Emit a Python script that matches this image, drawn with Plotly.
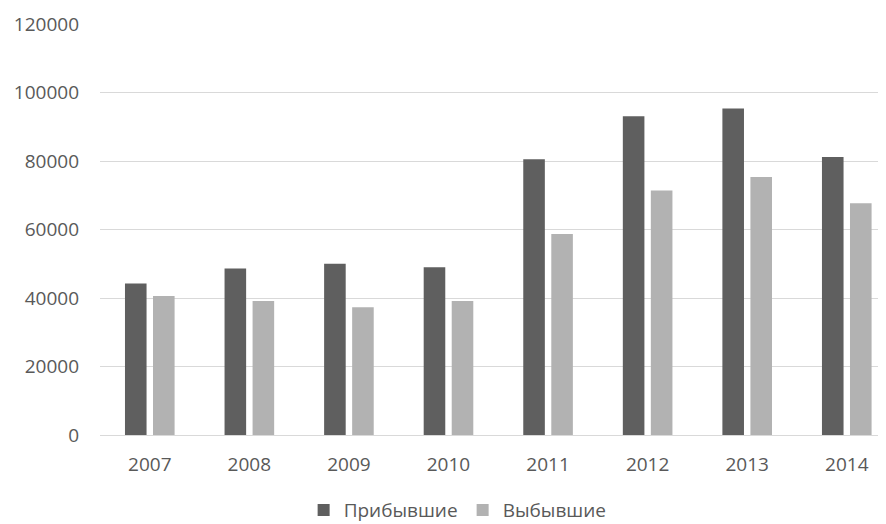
import plotly.graph_objects as go

years = ["2007", "2008", "2009", "2010", "2011", "2012", "2013", "2014"]
arrived = [44200, 48600, 50000, 49000, 80500, 93100, 95300, 81200]
departed = [40600, 39100, 37300, 39100, 58700, 71400, 75300, 67700]
y_ticks = [0, 20000, 40000, 60000, 80000, 100000, 120000]

fig = go.Figure()
fig.add_trace(go.Bar(x=years, y=arrived, name="Прибывшие", marker_color="#5f5f5f",
                     marker_line_width=0))
fig.add_trace(go.Bar(x=years, y=departed, name="Выбывшие", marker_color="#b2b2b2",
                     marker_line_width=0))

font_fam = "Open Sans, Liberation Sans, sans-serif"
# page body has an 8px margin, so the figure is sized to 878x516
fig.update_layout(
    width=878, height=516,
    margin=dict(l=92, r=0, t=16, b=89, pad=0, autoexpand=False),
    paper_bgcolor="white", plot_bgcolor="white",
    barmode="group", bargap=0.437, bargroupgap=0.23,
    font=dict(family=font_fam, size=19, color="#595959"),
    showlegend=True,
    legend=dict(orientation="h", x=0.455, xanchor="center", y=-0.183, yanchor="middle",
                font=dict(size=19, color="#595959"), itemwidth=30, traceorder="normal",
                bgcolor="rgba(0,0,0,0)", tracegroupgap=0),
    xaxis=dict(type="category", range=[-0.5, 7.394], showgrid=False, showline=True,
               linecolor="#d9d9d9", linewidth=1, ticks="", tickfont=dict(size=19, color="#595959"),
               ticklabelstandoff=12, automargin=False),
    yaxis=dict(range=[0, 120000], tickvals=y_ticks, ticktext=[str(v) for v in y_ticks],
               showgrid=True, gridcolor="#d9d9d9", gridwidth=1, zeroline=False,
               showline=False, ticks="", ticklabelstandoff=20, automargin=False,
               tickfont=dict(size=19, color="#595959")),
)
fig.write_html("out.html")
